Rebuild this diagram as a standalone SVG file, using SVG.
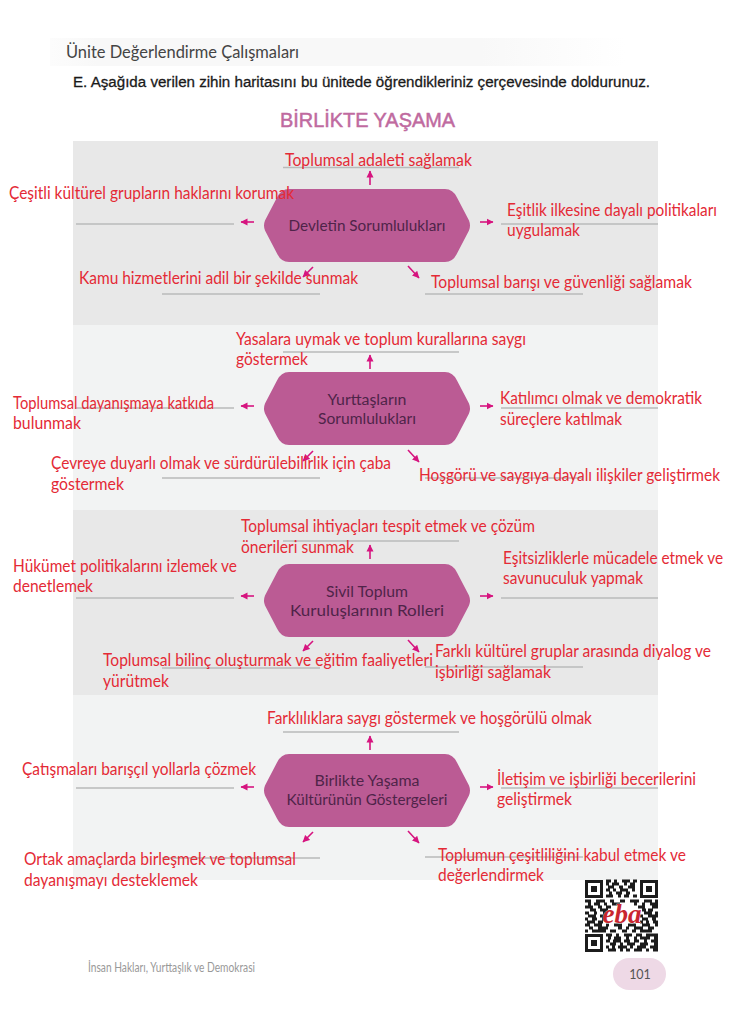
<svg xmlns="http://www.w3.org/2000/svg" width="732" height="1024" viewBox="0 0 732 1024">
<style>
.a{font-family:"Lato","Liberation Sans",sans-serif;font-size:16.500px;fill:#e42a36}
.n{font-family:"Lato","Liberation Sans",sans-serif;font-size:15.500px;fill:#4f2449;text-anchor:middle}
.l{stroke:#b9baba;stroke-width:1.6;fill:none}
.c{stroke:#d6147f;stroke-width:1.6;fill:none;marker-end:url(#h)}
.s{fill:#bb5b94}
.q{stroke:#1c1c1c;stroke-width:2.800;fill:none}
</style>
<defs>
<marker id="h" markerUnits="userSpaceOnUse" markerWidth="8" markerHeight="8" refX="6.500" refY="4" orient="auto"><path d="M0 .5L7 4L0 7.500Z" fill="#d6147f"/></marker>
<path id="hex" d="M-78-36.500H78Q86-36.500 90-28L102-5Q104 0 102 5L90 28Q86 36.500 78 36.500H-78Q-86 36.500-90 28L-102 5Q-104 0-102-5L-90-28Q-86-36.500-78-36.500Z"/>
<linearGradient id="band"><stop offset="0" stop-color="#fafafa" stop-opacity=".6"/><stop offset=".08" stop-color="#f8f8f8"/><stop offset=".75" stop-color="#f8f8f8"/><stop offset="1" stop-color="#fff"/></linearGradient>
</defs>
<rect width="732" height="1024" fill="#fff"/>
<rect x="50" y="38" width="575" height="28" fill="url(#band)"/>
<text x="66" y="58" font-family="Lato,'Liberation Sans',sans-serif" font-size="17" fill="#444" textLength="233" lengthAdjust="spacingAndGlyphs">Ünite Değerlendirme Çalışmaları</text>
<text x="73" y="87" font-family="'Liberation Sans',sans-serif" font-size="15.500" fill="#1a1a1a" stroke="#1a1a1a" stroke-width=".3" textLength="577" lengthAdjust="spacingAndGlyphs">E. Aşağıda verilen zihin haritasını bu ünitede öğrendikleriniz çerçevesinde doldurunuz.</text>
<text x="280" y="127" font-family="'Liberation Sans',sans-serif" font-size="21" fill="#c06a9f" stroke="#c06a9f" stroke-width=".5" textLength="175" lengthAdjust="spacingAndGlyphs">BİRLİKTE YAŞAMA</text>
<rect x="73" y="141" width="585" height="184" fill="#e8e8e8"/>
<rect x="73" y="325" width="585" height="185" fill="#f2f3f3"/>
<rect x="73" y="510" width="585" height="185" fill="#e8e8e8"/>
<rect x="73" y="695" width="585" height="185" fill="#f2f3f3"/>
<g id="connectors">
<g class="lines">
<path class="l" d="M283 167.500H459M76 224H234M501 224H658M162 294H320M425 294H583"/>
<path class="l" d="M283 352H459M76 408H234M501 408H658M162 478H320M425 478H583"/>
<path class="l" d="M283 541H459M76 598H234M501 598H658M162 668H320M425 667H583"/>
<path class="l" d="M283 732H459M76 788H234M501 788H658M162 858H320M425 857H583"/>
</g>
<path class="c" d="M370 185V171"/><path class="c" d="M254 222H241"/><path class="c" d="M480 222H493"/><path class="c" d="M313 267L303 277"/><path class="c" d="M408 266L419 278"/>
<path class="c" d="M370 369V355"/><path class="c" d="M254 406H241"/><path class="c" d="M480 406H493"/><path class="c" d="M313 451L303 461"/><path class="c" d="M408 450L419 462"/>
<path class="c" d="M370 559V545"/><path class="c" d="M254 596H241"/><path class="c" d="M480 596H493"/><path class="c" d="M313 641L303 651"/><path class="c" d="M408 640L419 652"/>
<path class="c" d="M370 750V736"/><path class="c" d="M254 787H241"/><path class="c" d="M480 787H493"/><path class="c" d="M313 832L303 842"/><path class="c" d="M408 831L419 843"/>
</g>
<g id="node-devlet"><use href="#hex" class="s" x="367" y="225.500"/><text class="n" x="367" y="231" textLength="157" lengthAdjust="spacingAndGlyphs">Devletin Sorumlulukları</text></g>
<g id="node-yurttas"><use href="#hex" class="s" x="367" y="408.500"/><text class="n" x="367" y="405" textLength="79" lengthAdjust="spacingAndGlyphs">Yurttaşların</text><text class="n" x="367" y="424" textLength="98" lengthAdjust="spacingAndGlyphs">Sorumlulukları</text></g>
<g id="node-stk"><use href="#hex" class="s" x="367" y="600.500"/><text class="n" x="367" y="597" textLength="82" lengthAdjust="spacingAndGlyphs">Sivil Toplum</text><text class="n" x="367" y="616" textLength="154" lengthAdjust="spacingAndGlyphs">Kuruluşlarının Rolleri</text></g>
<g id="node-kultur"><use href="#hex" class="s" x="367" y="790.500"/><text class="n" x="367" y="786" textLength="105" lengthAdjust="spacingAndGlyphs">Birlikte Yaşama</text><text class="n" x="367" y="805" textLength="161" lengthAdjust="spacingAndGlyphs">Kültürünün Göstergeleri</text></g>
<g id="answers">
<text class="a" x="285" y="166" textLength="187" lengthAdjust="spacingAndGlyphs">Toplumsal adaleti sağlamak</text>
<text class="a" x="9" y="199" textLength="285" lengthAdjust="spacingAndGlyphs">Çeşitli kültürel grupların haklarını korumak</text>
<text class="a" x="507" y="216" textLength="210" lengthAdjust="spacingAndGlyphs">Eşitlik ilkesine dayalı politikaları</text>
<text class="a" x="507" y="236" textLength="73" lengthAdjust="spacingAndGlyphs">uygulamak</text>
<text class="a" x="79" y="284" textLength="279" lengthAdjust="spacingAndGlyphs">Kamu hizmetlerini adil bir şekilde sunmak</text>
<text class="a" x="431" y="288" textLength="261" lengthAdjust="spacingAndGlyphs">Toplumsal barışı ve güvenliği sağlamak</text>
<text class="a" x="236" y="345" textLength="290" lengthAdjust="spacingAndGlyphs">Yasalara uymak ve toplum kurallarına saygı</text>
<text class="a" x="236" y="365" textLength="72" lengthAdjust="spacingAndGlyphs">göstermek</text>
<text class="a" x="13" y="409" textLength="201" lengthAdjust="spacingAndGlyphs">Toplumsal dayanışmaya katkıda</text>
<text class="a" x="13" y="429" textLength="68" lengthAdjust="spacingAndGlyphs">bulunmak</text>
<text class="a" x="500" y="404" textLength="202" lengthAdjust="spacingAndGlyphs">Katılımcı olmak ve demokratik</text>
<text class="a" x="500" y="425" textLength="122" lengthAdjust="spacingAndGlyphs">süreçlere katılmak</text>
<text class="a" x="51" y="469" textLength="340" lengthAdjust="spacingAndGlyphs">Çevreye duyarlı olmak ve sürdürülebilirlik için çaba</text>
<text class="a" x="51" y="490" textLength="73" lengthAdjust="spacingAndGlyphs">göstermek</text>
<text class="a" x="419" y="481" textLength="301" lengthAdjust="spacingAndGlyphs">Hoşgörü ve saygıya dayalı ilişkiler geliştirmek</text>
<text class="a" x="241" y="532" textLength="294" lengthAdjust="spacingAndGlyphs">Toplumsal ihtiyaçları tespit etmek ve çözüm</text>
<text class="a" x="241" y="553" textLength="113" lengthAdjust="spacingAndGlyphs">önerileri sunmak</text>
<text class="a" x="13" y="572" textLength="224" lengthAdjust="spacingAndGlyphs">Hükümet politikalarını izlemek ve</text>
<text class="a" x="13" y="592" textLength="80" lengthAdjust="spacingAndGlyphs">denetlemek</text>
<text class="a" x="503" y="564" textLength="220" lengthAdjust="spacingAndGlyphs">Eşitsizliklerle mücadele etmek ve</text>
<text class="a" x="503" y="584" textLength="140" lengthAdjust="spacingAndGlyphs">savunuculuk yapmak</text>
<text class="a" x="103" y="666" textLength="330" lengthAdjust="spacingAndGlyphs">Toplumsal bilinç oluşturmak ve eğitim faaliyetleri</text>
<text class="a" x="103" y="687" textLength="66" lengthAdjust="spacingAndGlyphs">yürütmek</text>
<text class="a" x="435" y="657" textLength="276" lengthAdjust="spacingAndGlyphs">Farklı kültürel gruplar arasında diyalog ve</text>
<text class="a" x="435" y="678" textLength="116" lengthAdjust="spacingAndGlyphs">işbirliği sağlamak</text>
<text class="a" x="267" y="724" textLength="325" lengthAdjust="spacingAndGlyphs">Farklılıklara saygı göstermek ve hoşgörülü olmak</text>
<text class="a" x="22" y="775" textLength="234" lengthAdjust="spacingAndGlyphs">Çatışmaları barışçıl yollarla çözmek</text>
<text class="a" x="497" y="785" textLength="199" lengthAdjust="spacingAndGlyphs">İletişim ve işbirliği becerilerini</text>
<text class="a" x="497" y="805" textLength="75" lengthAdjust="spacingAndGlyphs">geliştirmek</text>
<text class="a" x="24" y="865" textLength="272" lengthAdjust="spacingAndGlyphs">Ortak amaçlarda birleşmek ve toplumsal</text>
<text class="a" x="24" y="886" textLength="174" lengthAdjust="spacingAndGlyphs">dayanışmayı desteklemek</text>
<text class="a" x="438" y="861" textLength="248" lengthAdjust="spacingAndGlyphs">Toplumun çeşitliliğini kabul etmek ve</text>
<text class="a" x="438" y="881" textLength="106" lengthAdjust="spacingAndGlyphs">değerlendirmek</text>
</g>
<g id="qr">
<rect x="585" y="880" width="73" height="72" fill="#fff"/>
<path fill="#1c1c1c" fill-rule="evenodd" d="M585 880h18v18h-18zM588 883v12h12v-12zM591 886h6v6h-6zM640 880h18v18h-18zM643 883v12h12v-12zM646 886h6v6h-6zM585 934h18v18h-18zM588 937v12h12v-12zM591 940h6v6h-6z"/>
<path class="q" d="M606 881h5M614 881h3M622 881h8M633 881h4M606 884h3M612 884h7M624 884h3M630 884h5M608 887h6M619 887h4M628 887h7M606 890h4M613 890h3M620 890h8M632 890h3M609 893h3M616 893h6M626 893h4M606 896h7M618 896h3M624 896h5M633 896h4M585 901h6M596 901h9M610 901h4M620 901h5M630 901h9M644 901h8M655 901h3M588 904h3M594 904h6M604 904h3M612 904h8M634 904h3M642 904h3M650 904h8M585 907h8M598 907h4M606 907h5M638 907h7M652 907h6M590 910h6M600 910h8M642 910h4M648 910h5M585 913h4M594 913h3M603 913h3M644 913h8M655 913h3M588 916h8M600 916h4M640 916h3M648 916h10M585 919h3M592 919h5M602 919h4M642 919h6M652 919h4M587 922h8M598 922h5M640 922h3M646 922h3M653 922h5M585 925h5M594 925h8M606 925h3M614 925h8M628 925h8M642 925h8M655 925h3M589 928h4M598 928h10M618 928h4M626 928h3M634 928h9M648 928h6M585 931h3M592 931h14M610 931h6M622 931h5M632 931h4M640 931h12M606 935h6M616 935h3M624 935h8M636 935h6M646 935h12M608 938h3M614 938h7M626 938h3M634 938h3M640 938h10M654 938h4M606 941h4M613 941h8M624 941h6M634 941h5M644 941h3M651 941h7M610 944h6M620 944h3M627 944h8M640 944h8M654 944h4M606 947h3M612 947h3M618 947h9M630 947h3M637 947h9M650 947h8M608 950h8M620 950h3M626 950h4M634 950h8M646 950h3M653 950h5"/>
<text x="622" y="923" text-anchor="middle" font-family="'Liberation Serif',serif" font-style="italic" font-weight="700" font-size="27" fill="#c9262f" stroke="#fff" stroke-width=".6" paint-order="stroke">eba</text>
</g>
<text x="88" y="972" font-family="Lato,'Liberation Sans',sans-serif" font-size="12.500" fill="#999" textLength="167" lengthAdjust="spacingAndGlyphs">İnsan Hakları, Yurttaşlık ve Demokrasi</text>
<rect x="613" y="958" width="53" height="32" rx="16" fill="#eed9e6"/>
<text x="640" y="979" text-anchor="middle" font-family="Lato,'Liberation Sans',sans-serif" font-size="12.500" fill="#555">101</text>
</svg>
